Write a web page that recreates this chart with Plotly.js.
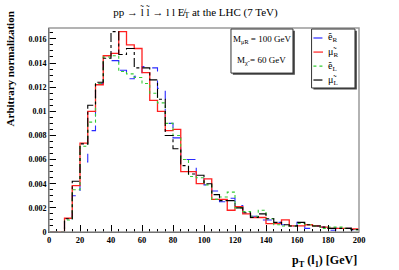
<!DOCTYPE html>
<html><head><meta charset="utf-8">
<script src="https://cdn.plot.ly/plotly-3.0.1.min.js"></script>
<style>html,body{margin:0;padding:0;background:#fff}#c{width:399px;height:270px}</style>
</head><body><div id="c"></div>
<script>
// bin edges (GeV)
const binLow = [0,5,10,15,20,25,30,35,40,45,50,55,60,65,70,75,80,85,90,95,100,105,110,115,120,125,130,135,140,145,150,155,160,165,170,175,180,185,190,195];
const xMax = 200;
// series (normalized)
const eR  = [0,0,0.0011,0.0030,0.0058,0.0084,0.0123,0.0141,0.0142,0.0134,0.0127,0.0129,0.0137,0.0136,0.0119,0.0090,0.0078,0.0060,0.0060,0.0045,0.0039,0.0034,0.0025,0.0028,0.0022,0.0014,0.0013,0.0010,0.0010,0.0008,0.0006,0.0005,0.0008,0.0003,0.0005,0.0004,0.00015,0.0003,0.0003,0.0002];
const muR = [0,0,0.00114,0.00384,0.00736,0.0100,0.0122,0.0146,0.0148,0.0166,0.0155,0.0152,0.0132,0.0109,0.0100,0.0084,0.0085,0.0050,0.0050,0.0040,0.0044,0.0027,0.0027,0.0018,0.0021,0.0015,0.0012,0.0012,0.0007,0.0007,0.0010,0.0005,0.0005,0.0006,0.0005,0.0004,0.0003,0.0003,0.0003,0.00025];
const eL  = [0,0,0.0010,0.0035,0.0071,0.0091,0.0123,0.0145,0.0146,0.0133,0.0131,0.0128,0.0123,0.0115,0.0107,0.0090,0.0080,0.0060,0.0046,0.0045,0.0039,0.0027,0.0029,0.0033,0.0020,0.0017,0.0013,0.0018,0.0011,0.0006,0.0005,0.0005,0.0007,0.0006,0.0005,0.0003,0.0004,0.0004,0.0003,0.0002];
const muL = [0,0,0.0011,0.0042,0.0073,0.0105,0.0124,0.0144,0.0166,0.0147,0.0152,0.0136,0.0136,0.0126,0.0110,0.0080,0.0069,0.0055,0.0048,0.0047,0.0040,0.0031,0.0026,0.0026,0.0020,0.0016,0.0012,0.0015,0.0011,0.0008,0.0006,0.0005,0.0008,0.0006,0.0005,0.0004,0.0003,0.0003,0.0003,0.0002];
const names = ['ẽ<sub>R</sub>','μ̃<sub>R</sub>','ẽ<sub>L</sub>','μ̃<sub>L</sub>'];
const colors = ['#2a2aff','#ff2020','#33cc33','#000000'];
const dashes = ['dash','solid','dot','dashdot'];
const yTickVals = [0,0.002,0.004,0.006,0.008,0.01,0.012,0.014,0.016];
const yTickText = ['0','0.002','0.004','0.006','0.008','0.01','0.012','0.014','0.016'];
const xTickVals = [0,20,40,60,80,100,120,140,160,180,200];
const xTickText = ['0','20','40','60','80','100','120','140','160','180','200'];

const series = [eR, muR, eL, muL];
const xs = binLow.concat([xMax]);
const traces = series.map((s,i)=>({
  type:'scatter', mode:'lines', name:names[i],
  x: xs, y: s.concat([s[s.length-1]]),
  line:{shape:'hv', color:colors[i], width: i===1?1.3:1.1, dash:dashes[i]},
  showlegend:false, hoverinfo:'skip'
}));

const serif = 'Liberation Serif, Times New Roman, serif';
const shapes = [
  {type:'rect', xref:'paper', yref:'paper', x0:0, x1:1, y0:0, y1:1, line:{color:'#9a9a9a', width:1.5}},
  {type:'rect', xref:'paper', yref:'paper', x0:0.593, x1:0.793, y0:0.771, y1:0.987, fillcolor:'#444', line:{width:0}},
  {type:'rect', xref:'paper', yref:'paper', x0:0.587, x1:0.787, y0:0.779, y1:0.995, fillcolor:'#fff', line:{color:'#333', width:1}},
  {type:'rect', xref:'paper', yref:'paper', x0:0.853, x1:0.993, y0:0.698, y1:0.987, fillcolor:'#444', line:{width:0}},
  {type:'rect', xref:'paper', yref:'paper', x0:0.847, x1:0.987, y0:0.706, y1:0.995, fillcolor:'#fff', line:{color:'#333', width:1}}
];
const legY = [0.951, 0.882, 0.813, 0.745];
const annotations = [];
for (let i=0;i<4;i++){
  shapes.push({type:'line', xref:'paper', yref:'paper', x0:0.853, x1:0.884, y0:legY[i], y1:legY[i], line:{color:colors[i], width:1.2, dash:dashes[i]}});
  annotations.push({xref:'paper', yref:'paper', x:0.893, y:legY[i], xanchor:'left', yanchor:'middle', showarrow:false, text:names[i], font:{family:serif, size:10, color:'#000'}});
}
annotations.push(
  {xref:'paper', yref:'paper', x:0.687, y:0.946, xanchor:'center', yanchor:'middle', showarrow:false, text:'M<sub>μ̃R</sub> = 100 GeV', font:{family:serif, size:9, color:'#000'}},
  {xref:'paper', yref:'paper', x:0.687, y:0.843, xanchor:'center', yanchor:'middle', showarrow:false, text:'M<sub>χ̃</sub> = 60 GeV', font:{family:serif, size:9, color:'#000'}},
  {xref:'paper', yref:'paper', x:1.0, y:-0.095, xanchor:'right', yanchor:'top', showarrow:false, text:'<b>p<sub>T</sub> (l<sub>1</sub>) [GeV]</b>', font:{family:serif, size:12, color:'#000'}},
  {xref:'paper', yref:'paper', x:-0.125, y:1.09, xanchor:'center', yanchor:'top', textangle:-90, showarrow:false, text:'<b>Arbitrary normalization</b>', font:{family:serif, size:11, color:'#000'}}
);

const layout = {
  width:399, height:270, paper_bgcolor:'#fff', plot_bgcolor:'#fff',
  margin:{l:49, r:40, t:28, b:38},
  title:{text:'pp → l̃ l̃ → l l E\u0338<sub>T</sub> at the LHC (7 TeV)', x:0.49, xanchor:'center', y:0.955, yanchor:'middle', font:{family:serif, size:11, color:'#000'}},
  showlegend:false,
  xaxis:{range:[0,200], showgrid:false, zeroline:false, showline:true, linecolor:'#000', linewidth:1,
    ticks:'inside', ticklen:7, tickcolor:'#000', tickvals:xTickVals, ticktext:xTickText,
    minor:{dtick:5, ticks:'inside', ticklen:3.5, tickcolor:'#000', showgrid:false},
    tickfont:{family:serif, size:8.5, color:'#000', weight:'bold'}},
  yaxis:{range:[0,0.0169], showgrid:false, zeroline:false, showline:true, linecolor:'#000', linewidth:1,
    ticks:'inside', ticklen:7, tickcolor:'#000', tickvals:yTickVals, ticktext:yTickText,
    minor:{dtick:0.0005, ticks:'inside', ticklen:3.5, tickcolor:'#000', showgrid:false},
    tickfont:{family:serif, size:8, color:'#000', weight:'bold'}},
  shapes:shapes, annotations:annotations
};
Plotly.newPlot('c', traces, layout, {staticPlot:true, displayModeBar:false});
</script></body></html>
